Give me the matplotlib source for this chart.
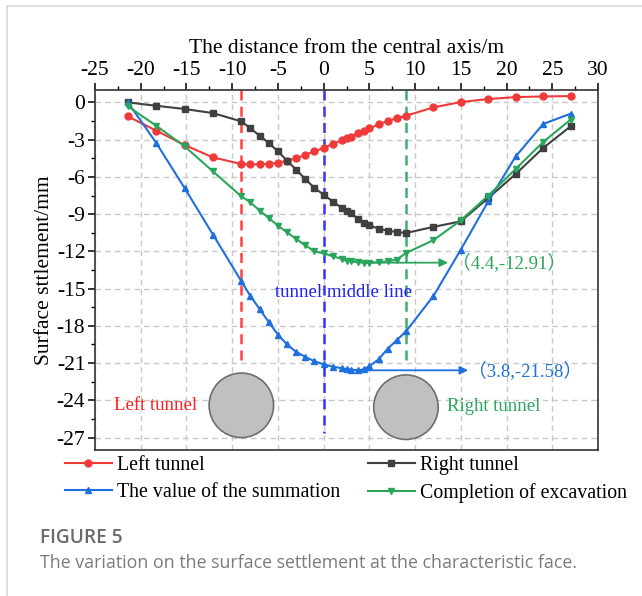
import matplotlib
matplotlib.use("Agg")
import matplotlib.pyplot as plt
from matplotlib.patches import Ellipse
from matplotlib.lines import Line2D
from matplotlib.ticker import MultipleLocator

# distance from the central axis (m)
dist = [-21.4, -18.3, -15.2, -12.1, -9, -8, -7, -6, -5, -4, -3, -2, -1, 0, 1, 2, 2.5, 3,
        3.8, 4.4, 5, 6, 7, 8, 9, 12, 15, 18, 21, 24, 27]

# surface settlement (mm)
left_tunnel = [-1.13, -2.28, -3.43, -4.43, -4.96, -4.99, -4.99, -4.94, -4.86, -4.70, -4.51,
               -4.21, -3.95, -3.67, -3.33, -3.04, -2.88, -2.75, -2.50, -2.30, -2.10, -1.77,
               -1.50, -1.28, -1.08, -0.40, 0.03, 0.27, 0.43, 0.48, 0.51]
right_tunnel = [0.0, -0.27, -0.53, -0.86, -1.53, -2.09, -2.68, -3.27, -3.94, -4.69, -5.42,
                -6.17, -6.90, -7.43, -7.99, -8.50, -8.72, -8.92, -9.42, -9.68, -9.90, -10.17,
                -10.33, -10.44, -10.52, -10.03, -9.58, -7.70, -5.77, -3.67, -1.93]
summation = [0.0, -3.27, -6.90, -10.65, -14.40, -15.60, -16.65, -17.70, -18.70, -19.50, -20.10,
             -20.50, -20.85, -21.10, -21.28, -21.42, -21.48, -21.53, -21.58, -21.50, -21.25,
             -20.70, -19.85, -19.15, -18.45, -15.60, -11.86, -7.97, -4.35, -1.74, -0.91]
completion = [-0.32, -1.88, -3.54, -5.56, -7.57, -8.05, -8.72, -9.31, -9.93, -10.47, -11.00,
              -11.51, -12.00, -12.16, -12.40, -12.60, -12.75, -12.80, -12.88, -12.91, -12.90,
              -12.88, -12.80, -12.67, -12.13, -11.10, -9.50, -7.51, -5.36, -3.19, -1.39]

min_sum = (3.8, -21.58)
min_comp = (4.4, -12.91)
tunnel_x = [-9, 9]
labels = ["Left tunnel", "Right tunnel", "The value of the summation", "Completion of excavation"]

RED = '#f03a3a'
BLACK = '#404040'
BLUE = '#1f6fdc'
GREEN = '#2aa65c'
SERIF = ['Liberation Serif', 'DejaVu Serif']

plt.rcParams['font.family'] = SERIF
plt.rcParams['axes.unicode_minus'] = False

fig = plt.figure(figsize=(6.42, 5.96), dpi=100)
ax = fig.add_axes([95 / 642, 1 - 450 / 596, 503 / 642, 360 / 596])

ax.set_xlim(-25, 30)
ax.set_ylim(-28, 1)
ax.xaxis.tick_top()
ax.xaxis.set_label_position('top')
ax.xaxis.set_major_locator(MultipleLocator(5))
ax.xaxis.set_minor_locator(MultipleLocator(2.5))
ax.yaxis.set_major_locator(MultipleLocator(3))
ax.yaxis.set_minor_locator(MultipleLocator(1.5))
ax.tick_params(which='major', direction='out', length=5, width=1.1, labelsize=15.5, pad=2)
ax.tick_params(which='minor', direction='out', length=3, width=1.0)
for s in ax.spines.values():
    s.set_linewidth(1.2)
    s.set_color('#333333')
ax.grid(True, which='major', color='#c8c8c8', linestyle=(0, (4, 3)), linewidth=1.0)
ax.set_axisbelow(True)

ax.set_xlabel("The distance from the central axis/m", fontsize=15.5, labelpad=6)
ax.set_ylabel("Surface sttlement/mm", fontsize=15.5, labelpad=2)

# reference lines for the tunnels and the middle line
ax.plot([tunnel_x[0]] * 2, [1, -21], color='#ff4040', linestyle=(0, (4, 2.5)), lw=1.8, zorder=2)
ax.plot([0, 0], [1, -26.6], color='#3333ff', linestyle=(0, (4, 2.5)), lw=1.8, zorder=2)
ax.plot([tunnel_x[1]] * 2, [1, -21], color='#3cb06a', linestyle=(0, (4, 2.5)), lw=1.8, zorder=2)

l1, = ax.plot(dist, left_tunnel, color=RED, marker='o', ms=5, lw=1.5, zorder=4)
l2, = ax.plot(dist, right_tunnel, color=BLACK, marker='s', ms=4.5, lw=1.5, zorder=4)
l3, = ax.plot(dist, summation, color=BLUE, marker='^', ms=5, lw=1.5, zorder=4)
l4, = ax.plot(dist, completion, color=GREEN, marker='v', ms=5, lw=1.5, zorder=4)

# tunnel cross sections
for tx, ty in zip(tunnel_x, [-24.4, -24.55]):
    ax.add_patch(Ellipse((tx, ty), 7.05, 5.2, facecolor='#c0c0c0', edgecolor='#6e6e6e',
                         lw=1.2, zorder=3))

# min value arrows
ax.annotate("", xy=(13.9, min_comp[1]), xytext=min_comp,
            arrowprops=dict(arrowstyle='-|>', color=GREEN, lw=1.3, mutation_scale=12), zorder=5)
ax.annotate("", xy=(16.1, min_sum[1]), xytext=min_sum,
            arrowprops=dict(arrowstyle='-|>', color=BLUE, lw=1.3, mutation_scale=12), zorder=5)

ann_font = SERIF + ['Noto Sans CJK SC']
ax.text(14.0, min_comp[1], "（%.1f,%.2f）" % min_comp, color=GREEN, fontsize=13.5,
        va='center', ha='left', family=ann_font)
ax.text(15.8, min_sum[1], "（%.1f,%.2f）" % min_sum, color=BLUE, fontsize=13.5,
        va='center', ha='left', family=ann_font)
ax.text(-22.9, -24.4, "Left tunnel", color='#ff2020', fontsize=13.5, va='center', ha='left')
ax.text(13.5, -24.5, "Right tunnel", color=GREEN, fontsize=13.5, va='center', ha='left')
ax.text(-5.3, -15.35, "tunnel middle line", color='#2020ff', fontsize=13.5, va='center', ha='left')

# legend, two columns
leg_kw = dict(frameon=False, fontsize=14.3, handlelength=2.35, handletextpad=0.25,
              labelspacing=0.4, borderpad=0, borderaxespad=0, loc='upper left')
fig.legend([l1, l3], [labels[0], labels[2]], bbox_to_anchor=(65 / 642, 1 - 456 / 596), **leg_kw)
fig.legend([l2, l4], [labels[1], labels[3]], bbox_to_anchor=(368 / 642, 1 - 456 / 596), **leg_kw)

# caption
fig.text(40 / 642, 1 - 538 / 596, "FIGURE 5", family='Open Sans', fontweight='semibold',
         fontsize=13.8, color='#6b6b6b', va='center')
fig.text(40 / 642, 1 - 563 / 596,
         "The variation on the surface settlement at the characteristic face.",
         family='Open Sans', fontsize=12.8, color='#7b7b7b', va='center')

# card border
fig.add_artist(Line2D([7 / 642, 1], [1 - 6 / 596] * 2, color='#d8d8d8', lw=1.2))
fig.add_artist(Line2D([7 / 642] * 2, [0, 1 - 6 / 596], color='#d8d8d8', lw=1.2))

fig.savefig("out.png", dpi=100)
